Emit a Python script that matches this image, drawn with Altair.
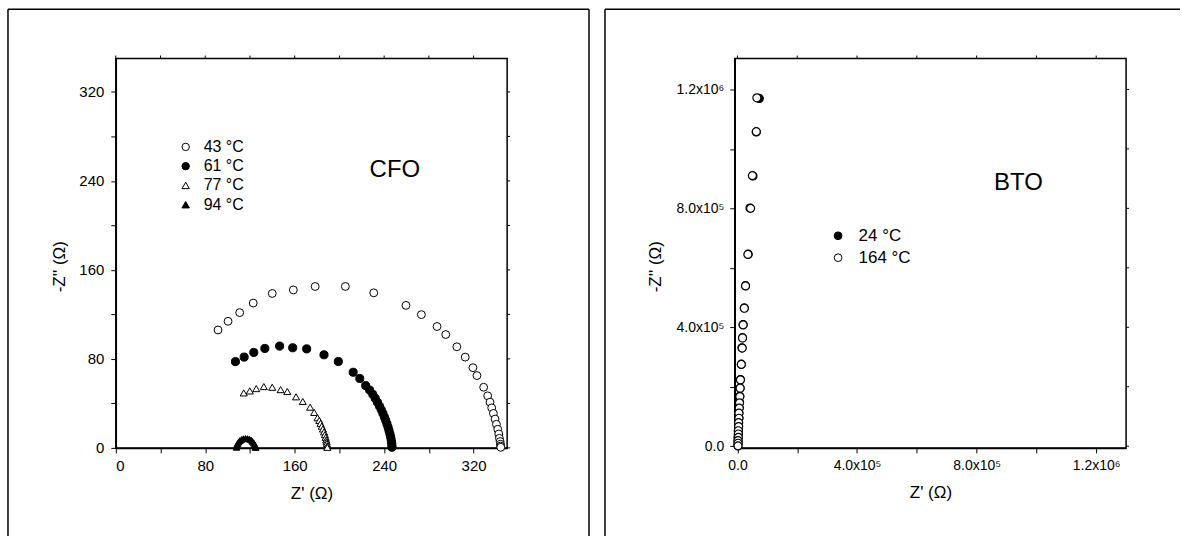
import altair as alt
import pandas as pd

FONT = "Liberation Sans"

# ---------------- CFO: Nyquist arcs, Z' and -Z'' in ohm ----------------
CFO_TEMPS = ["43 °C", "61 °C", "77 °C", "94 °C"]
CFO_SHAPES = ["circle", "circle", "triangle-up", "triangle-up"]
CFO_FILLS = ["white", "black", "white", "black"]
CFO_SIZES = [62, 66, 50, 44]

CFO_43_RE = [91.4, 100.4, 110.8, 122.9, 139.9, 158.8, 178.3, 205.3, 230.7, 259.5,
             273.3, 287.3, 295.1, 305.0, 312.5, 319.4, 323.0, 329.0, 332.6, 334.7,
             336.2, 337.7, 339.2, 340.4, 341.6, 342.5, 343.1, 343.7, 344.0, 344.2, 344.3]
CFO_43_IM = [106.0, 113.8, 121.6, 130.2, 138.8, 142.0, 145.1, 145.1, 139.4, 128.1,
             119.8, 109.1, 101.9, 90.9, 81.6, 72.1, 65.0, 54.5, 46.8, 41.1,
             36.0, 31.0, 25.9, 21.2, 16.7, 12.5, 8.6, 5.7, 3.3, 1.6, 0.5]

CFO_61_RE = [107.0, 114.8, 123.4, 133.3, 146.5, 158.2, 170.7, 186.2, 199.0, 212.3,
             218.2, 223.5, 227.0, 229.8, 232.0, 234.0, 235.8, 237.4, 238.9, 240.2,
             241.4, 242.5, 243.5, 244.3, 245.1, 245.8, 246.3, 246.7, 246.9, 247.0]
CFO_61_IM = [77.5, 81.6, 85.8, 89.4, 91.5, 90.0, 89.0, 83.7, 77.7, 68.0,
             62.4, 56.0, 52.0, 48.2, 44.6, 41.0, 37.6, 34.3, 31.0, 27.8,
             24.7, 21.6, 18.6, 15.7, 12.8, 10.0, 7.3, 4.8, 2.4, 0.6]

CFO_77_RE = [114.4, 119.8, 125.6, 132.4, 139.9, 147.4, 153.4, 161.2, 167.2, 173.8,
             177.4, 180.4, 182.0, 183.1, 184.2, 185.2, 186.2, 187.0, 187.7, 188.2,
             188.5, 188.8, 189.1, 189.2]
CFO_77_IM = [49.4, 51.2, 53.3, 55.1, 54.5, 52.4, 50.7, 45.9, 41.7, 36.6,
             31.9, 27.1, 24.6, 22.1, 19.5, 17.0, 14.4, 11.9, 9.5, 7.2,
             5.5, 3.9, 1.8, 0.5]

CFO_94_RE = [108.0, 108.3, 108.9, 109.8, 111.0, 112.5, 114.2, 116.0, 117.8, 119.5,
             121.0, 122.3, 123.4, 124.2, 124.8, 125.1]
CFO_94_IM = [0.5, 2.2, 3.9, 5.3, 6.6, 7.6, 8.3, 8.5, 8.4, 7.9,
             7.0, 5.8, 4.4, 2.9, 1.4, 0.3]

CFO_DOMAIN = [0, 350]
CFO_TICKS = [0, 40, 80, 120, 160, 200, 240, 280, 320]
CFO_LABEL_STEP = 80
CFO_NAME = ["CFO"]
CFO_NAME_RE = [249.6]
CFO_NAME_IM = [249.6]

# ---------------- BTO: nearly vertical spurs ----------------
BTO_TEMPS = ["24 °C", "164 °C"]
BTO_FILLS = ["black", "white"]

BTO_24_RE = [73000, 63000, 52000, 42000, 36000, 27000, 23000, 19000, 17000, 15000,
             13000, 10000, 9000, 8000, 7000, 6000, 5000, 5000, 4000, 4000,
             3000, 3000, 2000, 2000, 2000, 2000]
BTO_24_IM = [1170000, 1057000, 909000, 801000, 646000, 540000, 465000, 409000, 365000, 331000,
             276000, 224000, 196000, 168000, 147000, 129000, 112000, 95000, 80000, 67000,
             53000, 42000, 31000, 20000, 11000, 2000]

BTO_164_RE = [65000, 63000, 50000, 44000, 35000, 27000, 23000, 19000, 17000, 16000,
              13000, 10000, 9000, 8000, 7000, 6000, 5000, 5000, 4000, 4000,
              3000, 3000, 3000, 2000, 2000, 2000]
BTO_164_IM = [1172000, 1058000, 910000, 800000, 645000, 539000, 464000, 408000, 364000, 330000,
              275000, 223000, 195000, 167000, 146000, 128000, 111000, 94000, 79000, 66000,
              52000, 41000, 30000, 19000, 10000, 1000]

BTO_X_DOMAIN = [-9000, 1300000]
BTO_Y_DOMAIN = [-5700, 1304000]
BTO_TICKS = [0, 200000, 400000, 600000, 800000, 1000000, 1200000]
BTO_LABELED = [0, 400000, 800000, 1200000]
BTO_LABEL_TEXT = ["0.0", "4.0x10⁵", "8.0x10⁵", "1.2x10⁶"]
BTO_NAME = ["BTO"]
BTO_NAME_RE = [940000]
BTO_NAME_IM = [884000]

X_TITLE = "Z' (Ω)"
Y_TITLE = "-Z'' (Ω)"

PANEL_W = 392
PANEL_H = 390
FRAME_TOP = -49.3
FRAME_BOTTOM = 486


def series_frame(temps, re_lists, im_lists):
    parts = []
    for t, re_vals, im_vals in zip(temps, re_lists, im_lists):
        parts.append(pd.DataFrame({"z_re": re_vals, "z_im": im_vals, "temp": t}))
    return pd.concat(parts, ignore_index=True)


def make_axis(ticks, label_expr, title, label_size=15, **extra):
    return alt.Axis(
        values=ticks, labelExpr=label_expr, title=title, grid=False,
        tickSize=5, tickColor="black", tickWidth=1,
        domainColor="black", domainWidth=1.5,
        labelFont=FONT, labelFontSize=label_size, labelColor="black",
        titleFont=FONT, titleFontSize=17, titleColor="black", titleFontWeight="normal",
        **extra,
    )


def frame_line(x1, x2, y1, y2):
    return alt.Chart(pd.DataFrame({"k": [0]})).mark_rule(
        color="black", strokeWidth=1.5
    ).encode(x=alt.value(x1), x2=alt.value(x2), y=alt.value(y1), y2=alt.value(y2))


def edge_ticks(ticks, xs, ys, xa, ya):
    tick_df = pd.DataFrame({"t": ticks})
    top = alt.Chart(tick_df).mark_rule(color="black", strokeWidth=1).encode(
        x=alt.X("t:Q", scale=xs, axis=xa), y=alt.value(0), y2=alt.value(-3)
    )
    right = alt.Chart(tick_df).mark_rule(color="black", strokeWidth=1).encode(
        y=alt.Y("t:Q", scale=ys, axis=ya), x=alt.value(PANEL_W), x2=alt.value(PANEL_W + 3)
    )
    return top, right


# ---------------- left panel ----------------
cfo_df = series_frame(CFO_TEMPS, [CFO_43_RE, CFO_61_RE, CFO_77_RE, CFO_94_RE],
                      [CFO_43_IM, CFO_61_IM, CFO_77_IM, CFO_94_IM])
cfo_xs = alt.Scale(domain=CFO_DOMAIN, nice=False, zero=False)
cfo_ys = alt.Scale(domain=CFO_DOMAIN, nice=False, zero=False)
cfo_expr = f"datum.value % {CFO_LABEL_STEP} === 0 ? datum.label : ''"
cfo_xa = make_axis(CFO_TICKS, cfo_expr, X_TITLE, labelPadding=6, titlePadding=12)
cfo_ya = make_axis(CFO_TICKS, cfo_expr, Y_TITLE, labelPadding=7, titlePadding=10, titleY=208)

cfo_legend = alt.Legend(
    title=None, orient="none", legendX=62, legendY=80.5,
    labelFont=FONT, labelFontSize=16, labelColor="black", labelOffset=10,
    rowPadding=3.3, symbolSize=55, symbolStrokeWidth=1, symbolOpacity=1,
)
cfo_shape = alt.Shape("temp:N", scale=alt.Scale(domain=CFO_TEMPS, range=CFO_SHAPES), legend=cfo_legend)
cfo_fill = alt.Fill("temp:N", scale=alt.Scale(domain=CFO_TEMPS, range=CFO_FILLS), legend=cfo_legend)
cfo_stroke = alt.Stroke("temp:N", scale=alt.Scale(domain=CFO_TEMPS, range=["black"] * len(CFO_TEMPS)),
                        legend=cfo_legend)

cfo_series_layers = []
for temp, size in zip(CFO_TEMPS, CFO_SIZES):
    cfo_series_layers.append(
        alt.Chart(cfo_df).transform_filter(alt.datum.temp == temp).mark_point(
            filled=True, opacity=1, strokeWidth=1, size=size
        ).encode(
            x=alt.X("z_re:Q", scale=cfo_xs, axis=cfo_xa),
            y=alt.Y("z_im:Q", scale=cfo_ys, axis=cfo_ya),
            shape=cfo_shape,
            fill=cfo_fill,
            stroke=cfo_stroke,
        )
    )

cfo_name = alt.Chart(pd.DataFrame({"x": CFO_NAME_RE, "y": CFO_NAME_IM, "t": CFO_NAME})).mark_text(
    font=FONT, fontSize=24, color="black"
).encode(x=alt.X("x:Q", scale=cfo_xs, axis=cfo_xa), y=alt.Y("y:Q", scale=cfo_ys, axis=cfo_ya), text="t:N")

cfo_top, cfo_right = edge_ticks(CFO_TICKS, cfo_xs, cfo_ys, cfo_xa, cfo_ya)

left = alt.layer(
    frame_line(-108, -108, FRAME_TOP, FRAME_BOTTOM),
    frame_line(474, 474, FRAME_TOP, FRAME_BOTTOM),
    frame_line(-108, 474, FRAME_TOP, FRAME_TOP),
    cfo_top, cfo_right, *cfo_series_layers, cfo_name,
).properties(width=PANEL_W, height=PANEL_H)

# ---------------- right panel ----------------
bto_df = series_frame(BTO_TEMPS, [BTO_24_RE, BTO_164_RE], [BTO_24_IM, BTO_164_IM])
bto_xs = alt.Scale(domain=BTO_X_DOMAIN, nice=False, zero=False)
bto_ys = alt.Scale(domain=BTO_Y_DOMAIN, nice=False, zero=False)
bto_expr = "".join(
    f"datum.value === {v} ? '{t}' : " for v, t in zip(BTO_LABELED, BTO_LABEL_TEXT)
) + "''"
bto_xa = make_axis(BTO_TICKS, bto_expr, X_TITLE, label_size=14, labelPadding=6, titlePadding=12)
bto_ya = make_axis(BTO_TICKS, bto_expr, Y_TITLE, label_size=14, labelPadding=6, titlePadding=12,
                   titleY=208)

bto_legend = alt.Legend(
    title=None, orient="none", legendX=95, legendY=169,
    labelFont=FONT, labelFontSize=17, labelColor="black", labelOffset=12,
    rowPadding=4, symbolStrokeColor="black", symbolStrokeWidth=1, symbolOpacity=1,
    symbolSize=60,
)

bto_points = alt.Chart(bto_df).mark_point(
    filled=True, opacity=1, stroke="black", strokeWidth=1.2, shape="circle", size=64
).encode(
    x=alt.X("z_re:Q", scale=bto_xs, axis=bto_xa),
    y=alt.Y("z_im:Q", scale=bto_ys, axis=bto_ya),
    fill=alt.Fill("temp_bto:N", scale=alt.Scale(domain=BTO_TEMPS, range=BTO_FILLS), legend=bto_legend),
).transform_calculate(temp_bto="datum.temp")

bto_name = alt.Chart(pd.DataFrame({"x": BTO_NAME_RE, "y": BTO_NAME_IM, "t": BTO_NAME})).mark_text(
    font=FONT, fontSize=24, color="black"
).encode(x=alt.X("x:Q", scale=bto_xs, axis=bto_xa), y=alt.Y("y:Q", scale=bto_ys, axis=bto_ya), text="t:N")

bto_top, bto_right = edge_ticks(BTO_TICKS, bto_xs, bto_ys, bto_xa, bto_ya)

right = alt.layer(
    frame_line(-130, -130, FRAME_TOP, FRAME_BOTTOM),
    frame_line(-130, 446, FRAME_TOP, FRAME_TOP),
    bto_top, bto_right, bto_points, bto_name,
).properties(width=PANEL_W, height=PANEL_H)

chart = alt.hconcat(left, right, spacing=12).resolve_scale(
    x="independent", y="independent", shape="independent", fill="independent", stroke="independent"
).resolve_legend(
    shape="independent", fill="independent", stroke="independent"
).properties(
    padding={"left": 6, "top": 7.2, "right": 0, "bottom": -10}
).configure_view(stroke="black", strokeWidth=1.5)

chart.save("out.html", embed_options={"renderer": "svg", "actions": False})
